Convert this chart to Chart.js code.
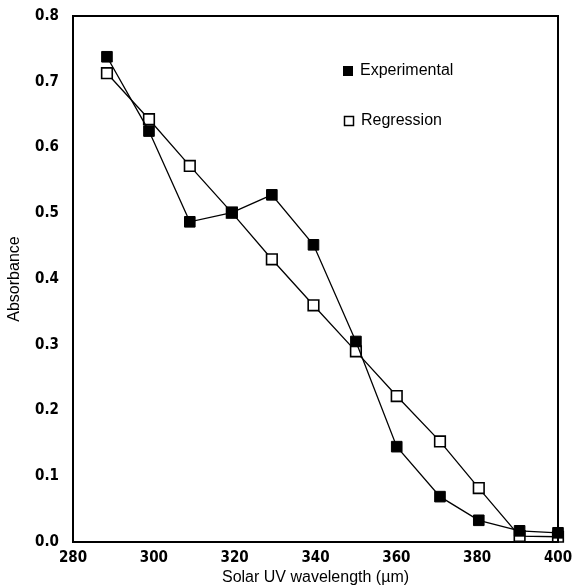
<!DOCTYPE html>
<html>
<head>
<meta charset="utf-8">
<script src="https://cdn.jsdelivr.net/npm/chart.js@4"></script>
<style>
  html, body { margin: 0; padding: 0; background: #fff; }
  #wrap { width: 577px; height: 587px; }
</style>
</head>
<body>
<div id="wrap"><canvas id="chart-uv" width="577" height="587"></canvas></div>
<script>
const wavelengths = [288.4, 298.8, 308.9, 319.3, 329.2, 339.5, 350, 360.1, 370.8, 380.4, 390.5, 400];
const experimental = [0.738, 0.625, 0.487, 0.501, 0.528, 0.452, 0.305, 0.145, 0.069, 0.033, 0.017, 0.014];
const regression = [0.713, 0.643, 0.572, 0.501, 0.430, 0.360, 0.290, 0.222, 0.153, 0.082, 0.009, 0.008];
const xTicks = [280, 300, 320, 340, 360, 380, 400];
const yTicks = [0, 0.1, 0.2, 0.3, 0.4, 0.5, 0.6, 0.7, 0.8];

const tickFont = { family: '"DejaVu Sans Condensed", "DejaVu Sans"', size: 15, weight: 'bold' };
const titleFont = { family: '"Liberation Sans", Arial', size: 16 };

const toPoints = ys => ys.map((y, i) => ({ x: wavelengths[i], y }));

// frame around the plot + legend written inside the plot area
const framePlugin = {
  id: 'frame',
  afterDraw(chart) {
    const { ctx, chartArea: a } = chart;
    ctx.save();
    ctx.strokeStyle = '#000';
    ctx.lineWidth = 2;
    ctx.strokeRect(a.left, a.top, a.right - a.left, a.bottom - a.top);

    ctx.font = '16px "Liberation Sans", Arial';
    ctx.textBaseline = 'middle';
    ctx.fillStyle = '#000';
    ctx.fillRect(343, 66, 10, 10);
    ctx.fillText('Experimental', 360, 71);
    ctx.lineWidth = 1.5;
    ctx.strokeRect(344.5, 116.5, 9, 9);
    ctx.fillText('Regression', 361, 121);
    ctx.restore();
  },
};

new Chart(document.getElementById('chart-uv'), {
  type: 'line',
  data: {
    datasets: [
      {
        label: 'Experimental',
        data: toPoints(experimental),
        borderColor: '#000',
        backgroundColor: '#000',
        borderWidth: 1.3,
        pointStyle: 'rect',
        pointRadius: 7.5,
        pointBorderWidth: 1,
        pointBackgroundColor: '#000',
        pointBorderColor: '#000',
        tension: 0,
        clip: false,
      },
      {
        label: 'Regression',
        data: toPoints(regression),
        borderColor: '#000',
        backgroundColor: '#fff',
        borderWidth: 1.3,
        pointStyle: 'rect',
        pointRadius: 7.5,
        pointBorderWidth: 1.6,
        pointBackgroundColor: '#fff',
        pointBorderColor: '#000',
        tension: 0,
        clip: false,
      },
    ],
  },
  options: {
    responsive: false,
    animation: false,
    layout: { padding: { top: 16, right: 19, left: 0, bottom: 0 } },
    plugins: {
      legend: { display: false },
      tooltip: { enabled: false },
    },
    scales: {
      x: {
        type: 'linear',
        min: 280,
        max: 400,
        afterBuildTicks: s => { s.ticks = xTicks.map(v => ({ value: v })); },
        afterFit: s => { s.height = 45; s.paddingLeft = 0; s.paddingRight = 0; },
        grid: { display: false, drawTicks: false },
        border: { display: true, color: '#000', width: 2 },
        ticks: { color: '#000', font: tickFont, padding: 7, maxRotation: 0, autoSkip: false },
        title: { display: true, text: 'Solar UV wavelength (µm)', color: '#000', font: titleFont, padding: { top: 0, bottom: 0 } },
      },
      y: {
        min: 0,
        max: 0.8,
        afterBuildTicks: s => { s.ticks = yTicks.map(v => ({ value: v })); },
        afterFit: s => { s.width = 73; s.paddingTop = 0; s.paddingBottom = 0; },
        grid: { display: false, drawTicks: false },
        border: { display: true, color: '#000', width: 2 },
        ticks: { color: '#000', font: tickFont, padding: 14, callback: v => v.toFixed(1) },
        title: { display: true, text: 'Absorbance', color: '#000', font: titleFont, padding: { top: 5, bottom: 0 } },
      },
    },
  },
  plugins: [framePlugin],
});
</script>
</body>
</html>
